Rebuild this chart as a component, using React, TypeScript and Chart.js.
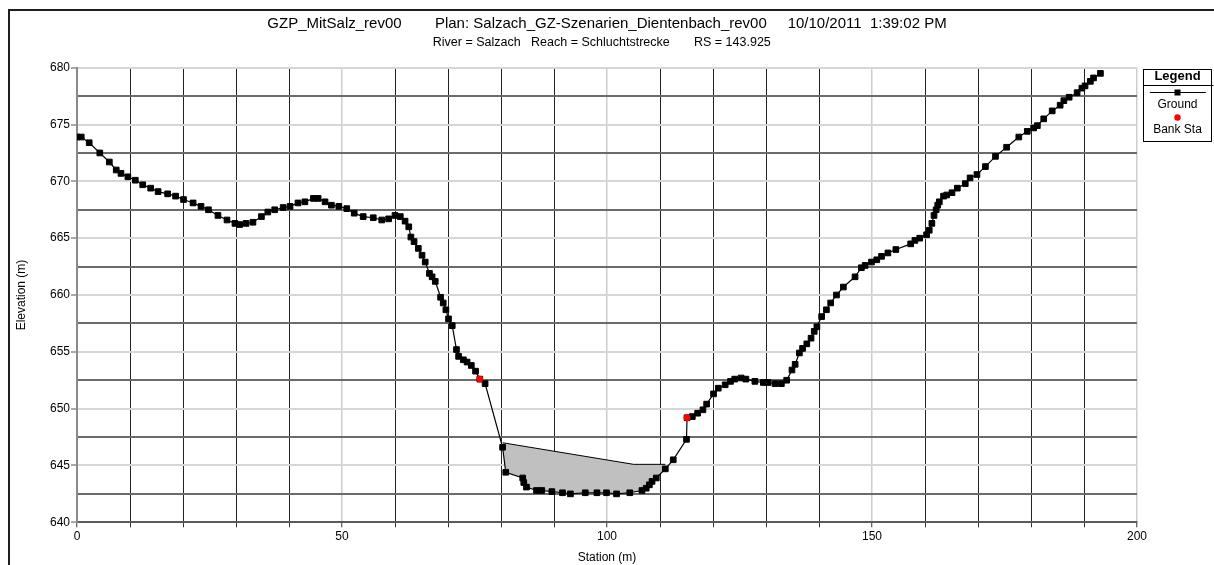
import React, { useEffect, useRef } from 'react';
import { Chart, registerables } from 'chart.js';

Chart.register(...registerables);

const FONT = '"Liberation Sans", Arial, Helvetica, sans-serif';

// ---- texts ----
const titleText =
  'GZP_MitSalz_rev00        Plan: Salzach_GZ-Szenarien_Dientenbach_rev00     10/10/2011  1:39:02 PM';
const subtitleText = 'River = Salzach   Reach = Schluchtstrecke       RS = 143.925   ';
const xAxisTitle = 'Station (m)';
const yAxisTitle = 'Elevation (m)';
const legendTitle = 'Legend';
const groundName = 'Ground';
const bankName = 'Bank Sta';
const wsName = 'WS';

// ---- tick labels ----
const xTickLabels = [0, 50, 100, 150, 200];
const yTickLabels = [640, 645, 650, 655, 660, 665, 670, 675, 680];

// ---- ground profile ----
const groundStation = [
  0, 0.8, 2.3, 4.3, 6.1, 7.4, 8.3, 9.6, 11.0, 12.4,
  13.9, 15.3, 17.1, 18.6, 20.1, 21.9, 23.4, 24.8, 26.6, 28.3,
  29.8, 30.7, 31.9, 33.2, 34.8, 36.0, 37.3, 38.9, 40.2, 41.7,
  43.0, 44.6, 45.5, 46.8, 48.0, 49.4, 50.9, 52.3, 54.0, 55.9,
  57.5, 58.8, 60.0, 61.0, 61.9, 62.6, 63.0, 63.6, 64.4, 65.1,
  65.7, 66.5, 67.0, 67.6, 68.6, 69.1, 69.6, 70.1, 70.8, 71.6,
  72.0, 72.9, 73.6, 74.4, 75.2, 76.0, 77.0, 80.3, 80.9, 84.1,
  84.3, 84.8, 86.7, 87.7, 89.6, 91.6, 93.1, 95.9, 98.1, 99.9,
  101.8, 104.3, 106.6, 107.4, 108.0, 108.5, 109.3, 111.0, 112.5, 115.0,
  115.1, 116.1, 117.1, 118.1, 118.8, 120.1, 121.0, 122.3, 123.3, 124.1,
  125.3, 126.2, 127.9, 129.5, 130.4, 131.7, 132.9, 133.9, 134.9, 135.5,
  136.3, 136.9, 137.7, 138.5, 139.1, 139.6, 140.5, 141.4, 142.2, 143.3,
  144.6, 146.8, 148.0, 148.7, 149.9, 150.9, 151.8, 153.0, 154.5, 157.3,
  158.1, 159.0, 160.3, 160.8, 161.3, 161.7, 162.1, 162.4, 162.7, 163.5,
  164.1, 165.1, 166.1, 167.6, 168.5, 169.8, 171.4, 173.3, 175.4, 177.7,
  179.3, 180.5, 181.2, 182.4, 184.0, 185.5, 186.2, 187.2, 188.7, 189.6,
  190.2, 191.2, 191.8, 193.1,
];
const groundElevation = [
  673.9, 673.9, 673.4, 672.5, 671.7, 671.0, 670.7, 670.4, 670.1, 669.7,
  669.4, 669.1, 668.9, 668.7, 668.4, 668.1, 667.8, 667.5, 667.0, 666.6,
  666.3, 666.2, 666.3, 666.4, 666.9, 667.3, 667.5, 667.7, 667.8, 668.1,
  668.2, 668.5, 668.5, 668.2, 667.9, 667.8, 667.6, 667.2, 666.9, 666.8,
  666.6, 666.7, 667.0, 666.9, 666.5, 666.0, 665.1, 664.7, 664.1, 663.5,
  662.9, 661.9, 661.6, 661.2, 659.8, 659.3, 658.7, 657.9, 657.3, 655.2,
  654.6, 654.3, 654.1, 653.8, 653.3, 652.6, 652.2, 646.6, 644.4, 643.9,
  643.5, 643.1, 642.8, 642.8, 642.7, 642.6, 642.5, 642.6, 642.6, 642.6,
  642.5, 642.6, 642.8, 643.0, 643.3, 643.6, 643.9, 644.7, 645.5, 647.3,
  649.2, 649.3, 649.6, 649.9, 650.4, 651.3, 651.8, 652.1, 652.4, 652.6,
  652.7, 652.6, 652.4, 652.3, 652.3, 652.2, 652.2, 652.5, 653.4, 653.9,
  654.9, 655.3, 655.7, 656.2, 656.8, 657.2, 658.1, 658.7, 659.3, 660.0,
  660.7, 661.6, 662.4, 662.6, 662.9, 663.1, 663.4, 663.7, 664.0, 664.5,
  664.8, 665.0, 665.3, 665.7, 666.3, 667.0, 667.5, 667.9, 668.2, 668.7,
  668.8, 669.0, 669.4, 669.8, 670.3, 670.6, 671.3, 672.2, 673.0, 673.9,
  674.4, 674.7, 674.9, 675.5, 676.2, 676.7, 677.1, 677.4, 677.8, 678.2,
  678.4, 678.8, 679.1, 679.5,
];

// ---- bank stations ----
const bankStation = [76.0, 115.1];
const bankElevation = [652.6, 649.2];

// ---- water surface (shaded) ----
const wsStation = [80.3, 105.0, 111.0];
const wsElevation = [647.0, 645.1, 645.1];

const isMultiple = (v: number, m: number) => Math.abs(v / m - Math.round(v / m)) < 1e-6;

const framePlugin = {
  id: 'frame',
  beforeDraw(chart: any) {
    const { ctx, width, height } = chart;
    ctx.save();
    ctx.fillStyle = '#1e1e1e';
    ctx.fillRect(0, 1, width, 2);
    ctx.fillRect(0, 1, 2, height);
    ctx.restore();
  },
};

const legendPlugin = {
  id: 'hecLegend',
  afterDraw(chart: any) {
    const { ctx, chartArea } = chart;
    const left = Math.round(chartArea.right + 5.7) + 0.5;
    const top = Math.round(chartArea.top + 1.3) + 0.5;
    const w = 68;
    const h = 72;
    const cx = left + w / 2;
    const groundDs = chart.data.datasets[1];
    const bankDs = chart.data.datasets[0];
    ctx.save();
    ctx.strokeStyle = '#000';
    ctx.lineWidth = 1;
    ctx.strokeRect(left, top, w, h);
    ctx.beginPath();
    ctx.moveTo(left, top + 16);
    ctx.lineTo(left + w + 2, top + 16);
    ctx.stroke();

    ctx.fillStyle = '#000';
    ctx.textAlign = 'center';
    ctx.textBaseline = 'middle';
    ctx.font = `bold 13px ${FONT}`;
    ctx.fillText(legendTitle, cx, top + 6.7);

    // ground sample
    ctx.strokeStyle = groundDs.borderColor;
    ctx.lineWidth = 1;
    ctx.beginPath();
    ctx.moveTo(left + 6.3, top + 23);
    ctx.lineTo(left + 62.3, top + 23);
    ctx.stroke();
    ctx.fillStyle = groundDs.pointBackgroundColor;
    ctx.fillRect(cx - 3, top + 20, 6, 6);

    ctx.fillStyle = '#000';
    ctx.font = `12px ${FONT}`;
    ctx.fillText(groundName, cx, top + 35.3);

    ctx.fillStyle = bankDs.pointBackgroundColor;
    ctx.beginPath();
    ctx.arc(cx, top + 48, 3.2, 0, Math.PI * 2);
    ctx.fill();

    ctx.fillStyle = '#000';
    ctx.fillText(bankName, cx, top + 60);
    ctx.restore();
  },
};

export default function App() {
  const canvasRef = useRef<HTMLCanvasElement | null>(null);

  useEffect(() => {
    const canvas = canvasRef.current;
    if (!canvas) return;
    Chart.defaults.font.family = FONT;
    Chart.defaults.color = '#000';

    const chart = new Chart(canvas, {
      type: 'scatter',
      data: {
        datasets: [
          {
            label: bankName,
            data: bankStation.map((x, i) => ({ x, y: bankElevation[i] })),
            showLine: false,
            pointStyle: 'circle',
            pointRadius: 3.4,
            pointBackgroundColor: '#ff0000',
            pointBorderColor: '#ff0000',
            pointBorderWidth: 0,
            borderColor: '#ff0000',
            backgroundColor: '#ff0000',
          },
          {
            label: groundName,
            data: groundStation.map((x, i) => ({ x, y: groundElevation[i] })),
            showLine: true,
            borderColor: '#000000',
            borderWidth: 1.2,
            pointStyle: 'rect',
            pointRadius: 4,
            pointBackgroundColor: '#000000',
            pointBorderColor: '#000000',
            pointBorderWidth: 1,
            backgroundColor: '#000000',
            fill: false,
          },
          {
            label: wsName,
            data: wsStation.map((x, i) => ({ x, y: wsElevation[i] })),
            showLine: true,
            borderColor: '#000000',
            borderWidth: 1,
            pointRadius: 0,
            backgroundColor: '#c0c0c0',
            fill: { target: 1 },
          },
        ],
      },
      options: {
        responsive: false,
        animation: false,
        events: [],
        layout: { padding: { left: 0, right: 77, top: 0, bottom: 0 } },
        plugins: {
          legend: { display: false },
          tooltip: { enabled: false },
          title: {
            display: true,
            text: titleText,
            fullSize: false,
            color: '#000',
            font: { size: 15, weight: 'normal', family: FONT },
            padding: { top: 7, bottom: 2 },
          },
          subtitle: {
            display: true,
            text: subtitleText,
            fullSize: false,
            color: '#000',
            font: { size: 12.5, weight: 'normal', family: FONT },
            padding: { top: 0, bottom: 17.7 },
          },
        },
        scales: {
          x: {
            type: 'linear',
            min: 0,
            max: 200,
            afterFit: (s: any) => {
              s.height = 42.7;
            },
            ticks: {
              stepSize: 10,
              autoSkip: false,
              maxRotation: 0,
              padding: 2,
              color: '#000',
              font: { size: 12, family: FONT },
              callback: (v: any) => (xTickLabels.includes(Number(v)) ? String(v) : ''),
            },
            grid: {
              color: (c: any) => (isMultiple(c.tick.value, 50) ? '#cdcdcd' : '#222222'),
              lineWidth: (c: any) => (isMultiple(c.tick.value, 50) ? 1.5 : 1),
              tickLength: 5,
              tickColor: '#333333',
              tickWidth: 1,
            },
            border: { display: true, color: '#5a5a5a', width: 2 },
            title: {
              display: true,
              text: xAxisTitle,
              color: '#000',
              font: { size: 12, family: FONT },
              padding: { top: 0, bottom: 0 },
            },
          },
          y: {
            type: 'linear',
            min: 640,
            max: 680,
            afterFit: (s: any) => {
              s.width = 69;
            },
            ticks: {
              stepSize: 2.5,
              autoSkip: false,
              padding: 1,
              color: '#000',
              font: { size: 12, family: FONT },
              callback: (v: any) => (yTickLabels.some((t) => Math.abs(Number(v) - t) < 1e-6) ? String(v) : ''),
            },
            grid: {
              color: (c: any) => (isMultiple(c.tick.value, 5) ? '#d6d6d6' : '#6b6b6b'),
              lineWidth: 2,
              tickLength: 6,
              tickColor: (c: any) => (isMultiple(c.tick.value, 5) ? '#555555' : 'rgba(0,0,0,0)'),
              tickWidth: 1,
            },
            border: { display: true, color: '#8a8a8a', width: 2 },
            title: {
              display: true,
              text: yAxisTitle,
              color: '#000',
              font: { size: 12, family: FONT },
              padding: { top: 6, bottom: 0 },
            },
          },
        },
      },
      plugins: [framePlugin, legendPlugin],
    } as any);

    return () => {
      chart.destroy();
    };
  }, []);

  return (
    <div style={{ position: 'fixed', left: 8, top: 8, width: 1206, height: 557 }}>
      <canvas ref={canvasRef} width={1206} height={557} style={{ width: 1206, height: 557, display: 'block' }} />
    </div>
  );
}
